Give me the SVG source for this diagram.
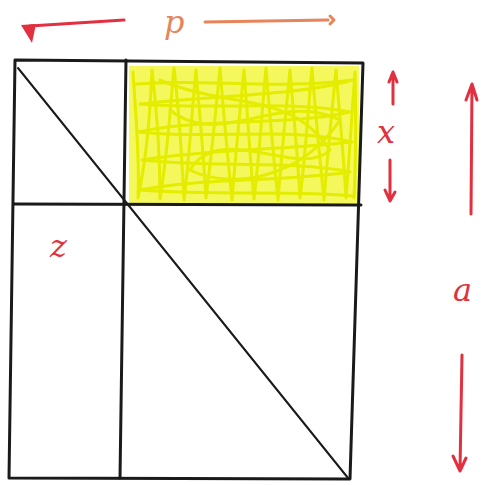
<svg xmlns="http://www.w3.org/2000/svg" width="485" height="485" viewBox="0 0 485 485">
<style>
.edge{stroke:#1a1a1a;stroke-width:3;fill:none;stroke-linecap:round;stroke-linejoin:round}
.thin{stroke:#1a1a1a;stroke-width:2;fill:none;stroke-linecap:round}
.red{stroke:#e23040;stroke-width:3;fill:none;stroke-linecap:round;stroke-linejoin:round}
.orange{stroke:#e8845a;stroke-width:3;fill:none;stroke-linecap:round;stroke-linejoin:round}
.scrib{stroke:#e4ec00;stroke-width:3;fill:none;stroke-linecap:round;stroke-linejoin:round}
.lbl{font-family:"DejaVu Serif","Liberation Serif",serif;font-style:italic;font-size:32px;fill:#e23040}
</style>
<rect width="485" height="485" fill="#ffffff"/>
<g id="shaded">
<rect x="129" y="66" width="230" height="137" fill="#f4f85c"/>
<path class="scrib" d="M133 72 C136 120 140 160 138 198 C148 150 150 110 152 70 C158 120 160 160 160 199 C168 150 170 110 174 68 C180 120 182 160 184 200 C190 150 192 110 196 70 C200 120 204 160 206 198 C212 150 216 110 220 68 C224 120 228 160 232 200 C236 150 240 110 244 70 C248 120 250 160 254 199 C260 150 262 110 266 68 C270 120 274 160 278 200 C282 150 286 110 290 70 C294 120 298 160 300 198 C306 150 308 110 312 68 C316 120 320 160 324 200 C328 150 332 110 336 70 C340 120 344 160 346 198 C350 150 352 110 355 72 C356 120 356 160 354 198"/>
<path class="scrib" d="M136 84 C200 78 280 90 352 80 C300 96 200 96 140 104 C210 110 290 100 350 112 C290 126 200 118 138 132 C210 140 290 126 352 142 C280 150 200 150 142 160 C210 168 290 160 350 172 C280 182 200 178 140 190 C220 196 300 190 352 196"/>
<path class="scrib" d="M160 80 C230 110 290 90 330 150 C300 180 220 120 190 170 C230 190 300 180 340 120 C280 90 220 150 170 110"/>
</g>
<g id="frame">
<path class="edge" d="M15 60 L363 63 L350 479 L9 478 Z"/>
<path class="edge" d="M126 60 L120 478"/>
<path class="edge" d="M14 204 L361 205"/>
</g>
<g id="connectors">
<path class="thin" d="M18 68 L348 478"/>
<path class="red" d="M30 26 L124 20"/>
<path d="M21 25 L36 24 L32 43 Z" fill="#e23040"/>
<path class="orange" d="M205 22 L328 20 M330 16 L334 20 L330 24"/>
<path class="red" d="M393 104 L393 74 M389 82 L393 72 L397 82"/>
<path class="red" d="M390 160 L390 200 M385 190 L390 201 L395 192"/>
<path class="red" d="M471 214 L472 84 M466 100 L472 84 L477 100"/>
<path class="red" d="M462 355 L460 470 M453 456 L460 471 L466 458"/>
</g>
<g id="labels">
<text class="lbl" x="164" y="33" style="fill:#e8845a">p</text>
<text class="lbl" x="377" y="143">x</text>
<text class="lbl" x="50" y="257">z</text>
<text class="lbl" x="453" y="301">a</text>
</g>
</svg>
